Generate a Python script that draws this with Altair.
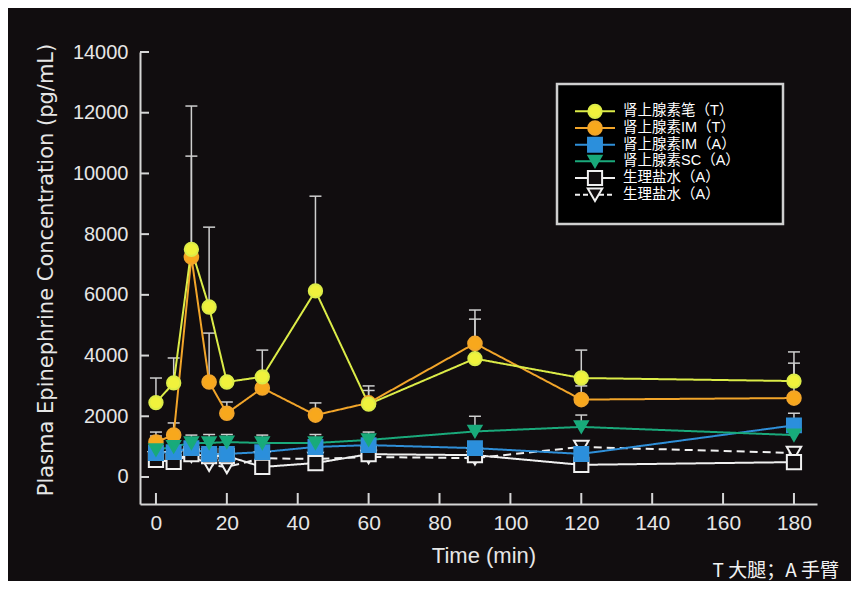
import altair as alt
import pandas as pd

# ---------------- data ----------------
times = [0, 5, 10, 15, 20, 30, 45, 60, 90, 120, 180]

pen_t_mean = [2450, 3100, 7500, 5600, 3130, 3300, 6130, 2400, 3900, 3260, 3160]
pen_t_top = [3260, 3920, 12220, 8230, 3250, 4180, 9250, 2850, 5200, 4180, 4120]

im_t_mean = [1150, 1380, 7250, 3130, 2100, 2930, 2040, 2440, 4400, 2550, 2600]
im_t_top = [1480, 1780, 10570, 4740, 2470, 3200, 2440, 3000, 5500, 3000, 3750]

im_a_mean = [790, 820, 950, 760, 760, 820, 990, 1050, 950, 760, 1700]
im_a_top = [900, 950, 1100, 900, 900, 950, 1150, 1200, 1100, 900, 2100]

sc_a_mean = [890, 1000, 1120, 1120, 1150, 1120, 1120, 1220, 1500, 1650, 1380]
sc_a_top = [1350, 1380, 1380, 1400, 1400, 1380, 1400, 1480, 2000, 2040, 1550]

sal_sq_mean = [560, 500, 750, 690, 690, 330, 460, 750, 720, 400, 490]
sal_sq_top = [650, 600, 850, 800, 800, 430, 560, 850, 820, 500, 590]

sal_tri_mean = [620, 620, 700, 400, 330, 620, 590, 660, 620, 990, 790]
sal_tri_top = [720, 720, 800, 500, 430, 720, 690, 760, 720, 1090, 890]

# drawing order (bottom -> top)
keys = ["sal_tri", "sal_sq", "im_a", "im_t", "pen_t", "sc_a"]
means = [sal_tri_mean, sal_sq_mean, im_a_mean, im_t_mean, pen_t_mean, sc_a_mean]
tops = [sal_tri_top, sal_sq_top, im_a_top, im_t_top, pen_t_top, sc_a_top]

legend_keys = ["pen_t", "im_t", "im_a", "sc_a", "sal_sq", "sal_tri"]
legend_labels = ["肾上腺素笔（T）", "肾上腺素IM（T）", "肾上腺素IM（A）",
                 "肾上腺素SC（A）", "生理盐水（A）", "生理盐水（A）"]

x_ticks = [0, 20, 40, 60, 80, 100, 120, 140, 160, 180]
y_ticks = [0, 2000, 4000, 6000, 8000, 10000, 12000, 14000]

# ---------------- styles ----------------
BG = "#110d0f"
AXC = "#d6d6d6"
FONT = "Liberation Sans"
CJK = "Noto Sans CJK SC"

line_col = {"pen_t": "#dcec48", "im_t": "#f2a52a", "im_a": "#2f8fd8",
            "sc_a": "#1aa97b", "sal_sq": "#f0f0f0", "sal_tri": "#f0f0f0"}
fill_col = {"pen_t": "#f0f23c", "im_t": "#f8a81c", "im_a": "#2b8fdc",
            "sc_a": "#17ab7a", "sal_sq": BG, "sal_tri": BG}
shape_map = {"pen_t": "circle", "im_t": "circle", "im_a": "square",
             "sc_a": "triangle-down", "sal_sq": "square", "sal_tri": "triangle-down"}
size_map = {"pen_t": 240, "im_t": 240, "im_a": 170, "sc_a": 190,
            "sal_sq": 170, "sal_tri": 210}
dash_map = {"pen_t": [1, 0], "im_t": [1, 0], "im_a": [1, 0], "sc_a": [1, 0],
            "sal_sq": [1, 0], "sal_tri": [8, 5]}
sw_map = {"pen_t": 1.5, "im_t": 1.5, "im_a": 1.5, "sc_a": 1.5,
          "sal_sq": 2, "sal_tri": 2}

rows = []
for order, (k, m, tp) in enumerate(zip(keys, means, tops)):
    for t, mv, tv in zip(times, m, tp):
        rows.append({"key": k, "ord": order, "time": t, "mean": mv, "top": tv})
df = pd.DataFrame(rows)

leg_df = pd.DataFrame({"idx": list(range(len(legend_keys))),
                       "key": legend_keys, "label": legend_labels})

dom = keys
color_scale = alt.Scale(domain=dom, range=[line_col[k] for k in dom])
fill_scale = alt.Scale(domain=dom, range=[fill_col[k] for k in dom])
shape_scale = alt.Scale(domain=dom, range=[shape_map[k] for k in dom])
size_scale = alt.Scale(domain=dom, range=[size_map[k] for k in dom])
dash_scale = alt.Scale(domain=dom, range=[dash_map[k] for k in dom])
sw_scale = alt.Scale(domain=dom, range=[sw_map[k] for k in dom])

xs = alt.Scale(domain=[-4.5, 186.5], nice=False, zero=False)
ys = alt.Scale(domain=[-890, 14000], nice=False, zero=False)

x_axis = alt.Axis(values=x_ticks, title=None, ticks=False, labelPadding=8,
                  labelFontSize=21, labelFont=FONT, labelColor="#e6e6e6", format="d",
                  domainColor=AXC, domainWidth=2, grid=False, labelFlush=False)
y_axis = alt.Axis(values=y_ticks, title=None, ticks=False, labelPadding=12,
                  labelFontSize=20, labelFont=FONT, labelColor="#e6e6e6", format="d",
                  domainColor=AXC, domainWidth=2, grid=False, labelFlush=False)

X = alt.X("time:Q", scale=xs, axis=x_axis)
Y = alt.Y("mean:Q", scale=ys, axis=y_axis)

base = alt.Chart(df)

err = base.mark_rule(color="#cfcfcf", strokeWidth=1.5).encode(
    x=X, y=Y, y2=alt.Y2("top:Q"))
caps = base.mark_rule(color="#cfcfcf", strokeWidth=1.5, xOffset=-6, x2Offset=6).encode(
    x=X, x2=alt.X2("time:Q"), y=alt.Y("top:Q", scale=ys, axis=y_axis))
lines = base.mark_line(strokeWidth=2).encode(
    x=X, y=Y,
    color=alt.Color("key:N", scale=color_scale, legend=None),
    strokeDash=alt.StrokeDash("key:N", scale=dash_scale, legend=None),
    detail="key:N", order=alt.Order("time:Q"))
pts = base.mark_point(filled=True, opacity=1).encode(
    x=X, y=Y,
    shape=alt.Shape("key:N", scale=shape_scale, legend=None),
    fill=alt.Fill("key:N", scale=fill_scale, legend=None),
    stroke=alt.Stroke("key:N", scale=color_scale, legend=None),
    size=alt.Size("key:N", scale=size_scale, legend=None),
    strokeWidth=alt.StrokeWidth("key:N", scale=sw_scale, legend=None),
    order=alt.Order("ord:Q"))

yt = alt.Chart(pd.DataFrame({"v": y_ticks})).mark_rule(color=AXC, strokeWidth=2).encode(
    y=alt.Y("v:Q", scale=ys, axis=y_axis), x=alt.value(0), x2=alt.value(9))
xt = alt.Chart(pd.DataFrame({"v": x_ticks})).mark_rule(color=AXC, strokeWidth=2).encode(
    x=alt.X("v:Q", scale=xs, axis=x_axis), y=alt.value(452), y2=alt.value(441))

one = pd.DataFrame({"a": [0]})
ytitle = alt.Chart(one).mark_text(
    text="Plasma Epinephrine Concentration (pg/mL)", angle=270, font="DejaVu Sans",
    fontSize=21, color="#e6e6e6", align="center", baseline="middle").encode(
    x=alt.value(-93), y=alt.value(218))
xtitle = alt.Chart(one).mark_text(
    text="Time (min)", font=FONT, fontSize=22, color="#e6e6e6",
    align="center", baseline="middle").encode(x=alt.value(344), y=alt.value(504))
note = alt.Chart(one).mark_text(
    text="T 大腿；A 手臂", font=CJK, fontSize=19, color="#f2f2f2",
    align="right", baseline="middle").encode(x=alt.value(699), y=alt.value(519))

main = alt.layer(err, caps, lines, pts, yt, xt, ytitle, xtitle, note)

# ---------------- legend ----------------
LY = alt.Y("idx:O", scale=alt.Scale(domain=list(range(len(legend_keys))),
                                     range=[51, 151]), axis=None)
box = alt.Chart(one).mark_rect(fill="#000000", stroke="#cfcfcf", strokeWidth=2.5).encode(
    x=alt.value(417), x2=alt.value(643), y=alt.value(32), y2=alt.value(172))
lchart = alt.Chart(leg_df)
leg_line = lchart.mark_rule(strokeWidth=2).encode(
    y=LY, x=alt.value(435), x2=alt.value(475),
    color=alt.Color("key:N", scale=color_scale, legend=None),
    strokeDash=alt.StrokeDash("key:N", scale=alt.Scale(
        domain=dom, range=[[1, 0] if k != "sal_tri" else [5, 3] for k in dom]), legend=None))
leg_pt = lchart.mark_point(filled=True, opacity=1).encode(
    y=LY, x=alt.value(455),
    shape=alt.Shape("key:N", scale=shape_scale, legend=None),
    fill=alt.Fill("key:N", scale=fill_scale, legend=None),
    stroke=alt.Stroke("key:N", scale=color_scale, legend=None),
    size=alt.Size("key:N", scale=size_scale, legend=None),
    strokeWidth=alt.StrokeWidth("key:N", scale=sw_scale, legend=None))
leg_txt = lchart.mark_text(font="Liberation Sans, Noto Sans CJK SC", fontSize=14.5,
                           color="#ffffff", align="left", baseline="middle").encode(
    y=LY, x=alt.value(483), text="label:N")
legend = alt.layer(box, leg_line, leg_pt, leg_txt)

chart = alt.layer(main, legend).resolve_scale(y="independent", strokeDash="independent").properties(
    width=677, height=452,
    autosize=alt.AutoSizeParams(type="none"),
    padding={"left": 132, "top": 44, "right": 34, "bottom": 77},
    background=BG,
).configure_view(stroke=None)

chart.save("out.html", embed_options={"renderer": "svg", "actions": False})
